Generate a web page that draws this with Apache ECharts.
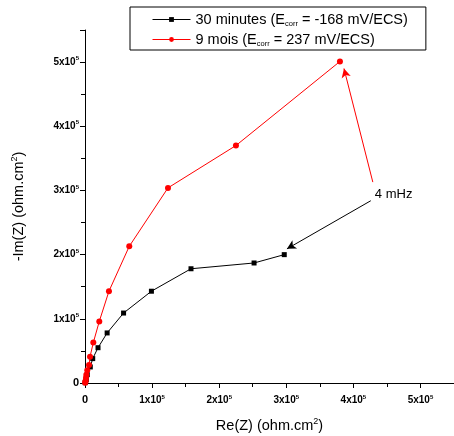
<!DOCTYPE html>
<html><head><meta charset="utf-8">
<script src="https://cdn.jsdelivr.net/npm/echarts@6/dist/echarts.min.js"></script>
<style>html,body{margin:0;padding:0;background:#fff}#c{width:454px;height:436px}</style>
</head><body><div id="c"></div>
<script>
// Nyquist data: [Re(Z), -Im(Z)] in ohm.cm2
const series30min = [[300,500],[1000,2500],[2000,5500],[3400,13000],[7900,25000],[11500,38000],[19400,55000],[33000,78000],[57500,109000],[99000,143000],[158000,178000],[252000,187000],[297000,200000]];
const series9mois = [[200,300],[600,1500],[1000,4000],[1500,8000],[2000,13000],[3400,20000],[6000,28000],[7500,41000],[12400,63000],[21300,96000],[35700,143000],[66000,213000],[123700,304000],[225000,370000],[380000,501000]];
const seriesNames = ['30 minutes (E{sub|corr} = -168 mV/ECS)', '9 mois (E{sub|corr} = 237 mV/ECS)'];
const xTicks = [0,100000,200000,300000,400000,500000];
const yTicks = [0,100000,200000,300000,400000,500000];
const annotText = '4 mHz';
const annotPos = [460000, 294000];
const redArrow = [[429000, 313000],[386000, 490000]];
const blackArrow = [[426000, 284000],[301000, 209000]];

const font = 'Arial, "Liberation Sans", sans-serif';
const tickFmt = v => v === 0 ? '{z|0}' : '{a|' + (v/1e5) + 'x10}{s|5}';
const tickRich = {
  z: {fontSize: 11, fontWeight: 'bold', color: '#000', fontFamily: font},
  a: {fontSize: 10, fontWeight: 'bold', color: '#000', fontFamily: font},
  s: {fontSize: 6, fontWeight: 'bold', color: '#000', fontFamily: font, verticalAlign: 'bottom', padding: [0,0,7,0]}
};
const axisCommon = {
  min: 0, max: 550000, interval: 100000,
  axisLine: {show: true, lineStyle: {color: '#000', width: 1}},
  axisTick: {show: true, inside: false, length: 5, lineStyle: {color: '#000'}},
  minorTick: {show: true, splitNumber: 2, length: 4, lineStyle: {color: '#000'}},
  splitLine: {show: false},
  nameLocation: 'middle',
  nameTextStyle: {fontSize: 14.5, color: '#000', fontFamily: font, rich: {sup: {fontSize: 9, verticalAlign: 'bottom', padding: [0,0,8,0], fontFamily: font}}}
};
const chart = echarts.init(document.getElementById('c'));
chart.setOption({
  animation: false,
  backgroundColor: '#fff',
  grid: {left: 85, top: 30, right: 0, bottom: 53, containLabel: false, outerBoundsMode: 'none'},
  legend: {
    left: 130, top: 7, orient: 'vertical',
    borderColor: '#000', borderWidth: 1, borderRadius: 0,
    padding: [5, 18, 2, 22], itemGap: 4, itemWidth: 38, itemHeight: 6,
    lineStyle: {width: 1},
    textStyle: {fontSize: 14.5, color: '#000', fontFamily: font,
      rich: {sub: {fontSize: 7.5, color: '#000', fontFamily: font, verticalAlign: 'top', padding: [9,0,0,0]}}},
    data: seriesNames
  },
  xAxis: Object.assign({}, axisCommon, {
    type: 'value', name: 'Re(Z) (ohm.cm{sup|2})', nameGap: 34,
    axisLabel: {formatter: tickFmt, rich: tickRich, margin: 11, customValues: xTicks}
  }),
  yAxis: Object.assign({}, axisCommon, {
    type: 'value', name: '-Im(Z) (ohm.cm{sup|2})', nameGap: 58,
    axisLabel: {formatter: tickFmt, rich: tickRich, margin: 6, customValues: yTicks}
  }),
  series: [
    {
      name: seriesNames[0], type: 'line', data: series30min,
      symbol: 'rect', symbolSize: 5, showSymbol: true,
      itemStyle: {color: '#000'}, lineStyle: {color: '#000', width: 1},
      markLine: {silent: true, symbol: ['none', 'arrow'], symbolSize: [7, 9],
        lineStyle: {color: '#000', width: 1, type: 'solid'}, label: {show: false},
        data: [[{coord: blackArrow[0]}, {coord: blackArrow[1]}]]},
      markPoint: {silent: true, symbol: 'circle', symbolSize: 0,
        label: {show: true, position: 'inside', formatter: annotText, color: '#000', fontSize: 13, fontFamily: font},
        data: [{coord: annotPos}]}
    },
    {
      name: seriesNames[1], type: 'line', data: series9mois,
      symbol: 'circle', symbolSize: 6, showSymbol: true,
      itemStyle: {color: '#ff0000'}, lineStyle: {color: '#ff0000', width: 1},
      markLine: {silent: true, symbol: ['none', 'arrow'], symbolSize: [7, 9],
        lineStyle: {color: '#ff0000', width: 1, type: 'solid'}, label: {show: false},
        data: [[{coord: redArrow[0]}, {coord: redArrow[1]}]]}
    }
  ]
});
</script></body></html>
